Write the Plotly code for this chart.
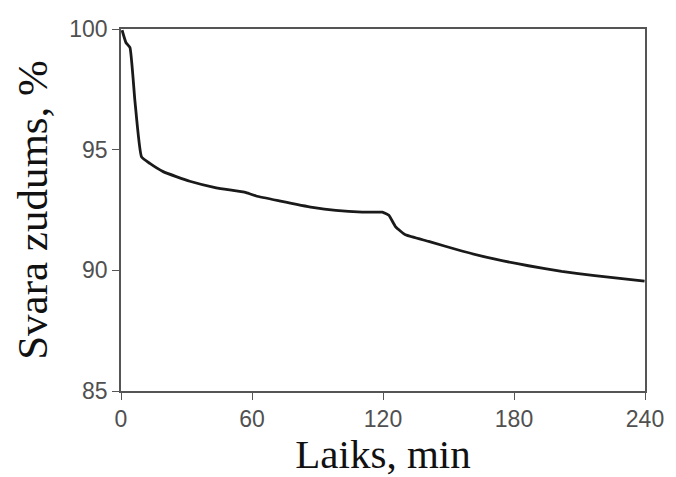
import plotly.graph_objects as go

time_min = [0.5, 2.3, 4.1, 6.4, 9.4, 13.2, 19.3, 31.5, 43.6, 57.3, 61.9, 72.5, 87.7,
            98.4, 110.5, 117.4, 119.7, 122.7, 125.8, 130.3, 140.9, 156.1, 171.4,
            186.6, 201.8, 217.0, 239.8]
weight_pct = [99.95, 99.43, 99.23, 97.0, 94.70, 94.43, 94.09, 93.69, 93.42, 93.22, 93.08,
              92.88, 92.61, 92.48, 92.41, 92.41, 92.41, 92.28, 91.80, 91.47, 91.20,
              90.80, 90.46, 90.19, 89.96, 89.78, 89.55]
x_ticks = [0, 60, 120, 180, 240]
y_ticks = [85, 90, 95, 100]

fig = go.Figure()
fig.add_trace(go.Scatter(x=time_min, y=weight_pct, mode="lines",
                         line=dict(color="#1a1a1a", width=2.8, shape="spline", smoothing=0.4),
                         showlegend=False))

axis_common = dict(showgrid=False, zeroline=False, showline=True, linecolor="#555555",
                   linewidth=1.6, mirror=True, ticks="outside", ticklen=7, tickwidth=1.4,
                   tickcolor="#555555",
                   tickfont=dict(family="Liberation Sans, Arial", size=23, color="#505050"))

fig.update_layout(
    width=676, height=477,
    margin=dict(l=121, r=29, t=29, b=77),
    paper_bgcolor="white", plot_bgcolor="white",
    xaxis=dict(range=[0, 240], tickvals=x_ticks,
               title=dict(text="Laiks, min", standoff=4,
                          font=dict(family="Liberation Serif, Times New Roman", size=41, color="#111111")),
               **axis_common),
    yaxis=dict(range=[85, 100], tickvals=y_ticks,
               title=dict(text="Svara zudums, %", standoff=8,
                          font=dict(family="Liberation Serif, Times New Roman", size=43, color="#111111")),
               **axis_common),
)

fig.write_html("out.html")
